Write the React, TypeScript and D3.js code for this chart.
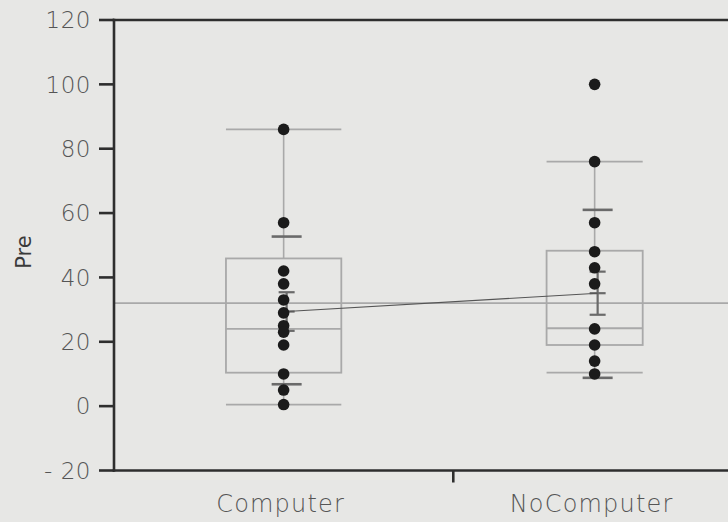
import React from 'react'
import * as d3 from 'd3'

// groups on the x axis
const groups = ['Computer', 'NoComputer']

// individual "Pre" scores per group
const computerPre = [86, 57, 42, 38, 33, 29, 25, 23, 19, 10, 5, 0.5]
const noComputerPre = [100, 76, 57, 48, 43, 38, 24, 19, 14, 10]

// quantile box values
const boxQ1 = [10.4, 19]
const boxMedian = [24, 24.2]
const boxQ3 = [45.9, 48.3]
const whiskerLow = [0.5, 10.4]
const whiskerHigh = [86, 76]

// means, std error and std dev lines
const groupMeans = [29.4, 35.1]
const stdErr = [6.0, 6.7]
const stdDevLow = [6.8, 8.8]
const stdDevHigh = [52.7, 61]
const grandMean = 32

const yTicks = [-20, 0, 20, 40, 60, 80, 100, 120]

const W = 728
const H = 522

export default function App() {
    const margin = {top: 20, left: 114, bottom: 470.5, right: 736}
    const points = [computerPre, noComputerPre]

    const y = d3.scaleLinear().domain([-20, 120]).range([margin.bottom, margin.top])

    // JMP widths are proportional to group size
    const counts = points.map(p => p.length)
    const cum = [0, counts[0], counts[0] + counts[1]]
    const x = d3.scaleLinear().domain([0, cum[2]]).range([margin.left, margin.right])
    const center = (i: number) => x((cum[i] + cum[i + 1]) / 2)
    const bandW = (i: number) => x(cum[i + 1]) - x(cum[i])

    const font = '"DejaVu Sans", sans-serif'
    const boxColor = '#a9a9a9'
    const barColor = '#6a6a6a'

    const meanLine = d3.line<number>()
        .x((d, i) => center(i) + 3)
        .y(d => y(d))

    return (
        <svg width={W} height={H} style={{position: 'absolute', left: 0, top: 0, display: 'block'}}>
            <rect x={0} y={0} width={W} height={H} fill="#e7e7e5" />

            {/* grand mean */}
            <line x1={margin.left} x2={W} y1={y(grandMean)} y2={y(grandMean)} stroke={boxColor} strokeWidth={1.6} />

            {groups.map((g, i) => {
                const cx = center(i)
                const bw = bandW(i) * 0.34
                return (
                    <g key={'box' + g}>
                        <line x1={cx} x2={cx} y1={y(whiskerHigh[i])} y2={y(boxQ3[i])} stroke={boxColor} strokeWidth={1.6} />
                        <line x1={cx} x2={cx} y1={y(boxQ1[i])} y2={y(whiskerLow[i])} stroke={boxColor} strokeWidth={1.6} />
                        <rect x={cx - bw / 2} y={y(boxQ3[i])} width={bw} height={y(boxQ1[i]) - y(boxQ3[i])}
                            fill="none" stroke={boxColor} strokeWidth={1.8} />
                        <line x1={cx - bw / 2} x2={cx + bw / 2} y1={y(boxMedian[i])} y2={y(boxMedian[i])} stroke={boxColor} strokeWidth={1.8} />
                        <line x1={cx - bw / 2} x2={cx + bw / 2} y1={y(whiskerHigh[i])} y2={y(whiskerHigh[i])} stroke={boxColor} strokeWidth={1.8} />
                        <line x1={cx - bw / 2} x2={cx + bw / 2} y1={y(whiskerLow[i])} y2={y(whiskerLow[i])} stroke={boxColor} strokeWidth={1.8} />
                    </g>
                )
            })}

            {/* std dev lines and mean error bars */}
            {groups.map((g, i) => {
                const cx = center(i) + 3
                const m = groupMeans[i]
                return (
                    <g key={'err' + g} stroke={barColor} strokeWidth={2.2}>
                        <line x1={cx - 15} x2={cx + 15} y1={y(stdDevHigh[i])} y2={y(stdDevHigh[i])} strokeWidth={2.6} />
                        <line x1={cx - 15} x2={cx + 15} y1={y(stdDevLow[i])} y2={y(stdDevLow[i])} strokeWidth={2.6} />
                        <line x1={cx} x2={cx} y1={y(m + stdErr[i])} y2={y(m - stdErr[i])} />
                        <line x1={cx - 8} x2={cx + 8} y1={y(m + stdErr[i])} y2={y(m + stdErr[i])} />
                        <line x1={cx - 8} x2={cx + 8} y1={y(m - stdErr[i])} y2={y(m - stdErr[i])} />
                        <line x1={cx - 8} x2={cx + 8} y1={y(m)} y2={y(m)} />
                    </g>
                )
            })}

            <path d={meanLine(groupMeans) || ''} fill="none" stroke="#555" strokeWidth={1.1} />

            {points.map((p, i) => p.map((v, j) => (
                <circle key={i + '-' + j} cx={center(i)} cy={y(v)} r={5.8} fill="#1b1b1b" />
            )))}

            {/* axes */}
            <g stroke="#2e2e2e" strokeWidth={2.6} strokeLinecap="square">
                <line x1={margin.left} x2={margin.left} y1={margin.top} y2={margin.bottom} />
                <line x1={margin.left} x2={W + 2} y1={margin.top} y2={margin.top} />
                <line x1={margin.left} x2={W + 2} y1={margin.bottom} y2={margin.bottom} />
                {yTicks.map(t => (
                    <line key={t} x1={margin.left - 15} x2={margin.left} y1={y(t)} y2={y(t)} strokeLinecap="butt" />
                ))}
                <line x1={x(cum[1])} x2={x(cum[1])} y1={margin.bottom} y2={margin.bottom + 12} strokeLinecap="butt" />
            </g>

            {yTicks.map(t => (
                <text key={'l' + t} x={91} y={y(t)} dy="0.36em" textAnchor="end"
                    fontFamily={font} fontWeight={200} fontSize={23} fill="#555" letterSpacing={0.5}>{t < 0 ? '- ' + Math.abs(t) : t}</text>
            ))}

            {groups.map((g, i) => (
                <text key={'c' + g} x={center(i) - 3} y={512} textAnchor="middle"
                    fontFamily={font} fontWeight={200} fontSize={24} fill="#555" letterSpacing={1.2}>{g}</text>
            ))}

            <text transform="translate(31,252) rotate(-90)" textAnchor="middle"
                fontFamily={font} fontSize={21} fill="#3a3a3a">Pre</text>
        </svg>
    )
}
